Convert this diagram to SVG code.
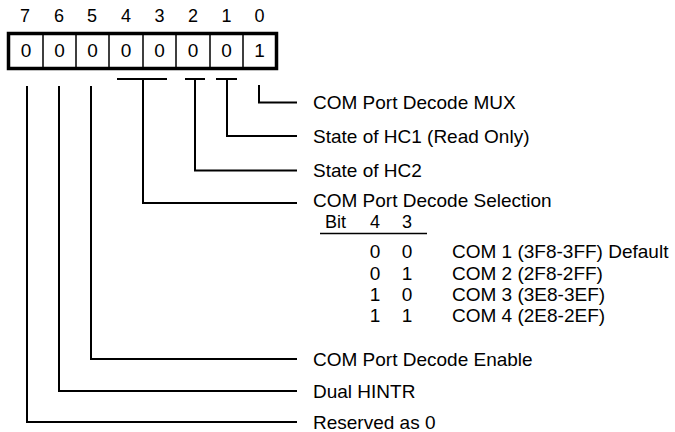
<svg xmlns="http://www.w3.org/2000/svg" width="675" height="432" viewBox="0 0 675 432">
<style>
text{font-family:"Liberation Sans",Arial,sans-serif;font-size:19px;fill:#000}
.c{text-anchor:middle}
.bn{font-size:18px}
.ln{stroke:#000;stroke-width:2;fill:none}
</style>
<rect width="675" height="432" fill="#fff"/>
<g id="bitnums">
<text class="c bn" x="25" y="22">7</text>
<text class="c bn" x="59" y="22">6</text>
<text class="c bn" x="92" y="22">5</text>
<text class="c bn" x="126" y="22">4</text>
<text class="c bn" x="159.5" y="22">3</text>
<text class="c bn" x="193" y="22">2</text>
<text class="c bn" x="226.5" y="22">1</text>
<text class="c bn" x="259.5" y="22">0</text>
</g>
<g id="register">
<rect x="8.5" y="33.5" width="268" height="35" fill="#fff" stroke="#000" stroke-width="3.5"/>
<path d="M43 34V68M76 34V68M109 34V68M143 34V68M176 34V68M210 34V68M243 34V68" stroke="#000" stroke-width="1.5"/>
<text class="c" x="26" y="57">0</text>
<text class="c" x="59.5" y="57">0</text>
<text class="c" x="92.5" y="57">0</text>
<text class="c" x="126" y="57">0</text>
<text class="c" x="159.5" y="57">0</text>
<text class="c" x="193" y="57">0</text>
<text class="c" x="226.5" y="57">0</text>
<text class="c" x="259.5" y="57">1</text>
</g>
<g id="connectors" class="ln">
<path d="M259 85V102.5H297"/>
<path d="M216 79H237M227 79V136H297"/>
<path d="M185 79H205M195 79V170.5H297"/>
<path d="M117 79H167M143 79V203H297"/>
<path d="M91 86V359H297"/>
<path d="M59 86V391H297"/>
<path d="M27 86V422H297"/>
<path d="M320 233.5H427" stroke-width="1.5"/>
</g>
<g id="label-b0"><text x="313" y="109">COM Port Decode MUX</text></g>
<g id="label-b1"><text x="313" y="142.5">State of HC1 (Read Only)</text></g>
<g id="label-b2"><text x="313" y="177">State of HC2</text></g>
<g id="label-b43">
<text x="313" y="207">COM Port Decode Selection</text>
<text x="325" y="228" style="font-size:18px">Bit</text>
<text class="c" x="375" y="228" style="font-size:18px">4</text>
<text class="c" x="407" y="228" style="font-size:18px">3</text>
<text class="c" x="375" y="258">0</text><text class="c" x="407" y="258">0</text><text x="452" y="258">COM 1 (3F8-3FF) Default</text>
<text class="c" x="375" y="280">0</text><text class="c" x="407" y="280">1</text><text x="452" y="280">COM 2 (2F8-2FF)</text>
<text class="c" x="375" y="301">1</text><text class="c" x="407" y="301">0</text><text x="452" y="301">COM 3 (3E8-3EF)</text>
<text class="c" x="375" y="322">1</text><text class="c" x="407" y="322">1</text><text x="452" y="322">COM 4 (2E8-2EF)</text>
</g>
<g id="label-b5"><text x="313" y="365.5">COM Port Decode Enable</text></g>
<g id="label-b6"><text x="313" y="397.5">Dual HINTR</text></g>
<g id="label-b7"><text x="313" y="428.5">Reserved as 0</text></g>
</svg>
